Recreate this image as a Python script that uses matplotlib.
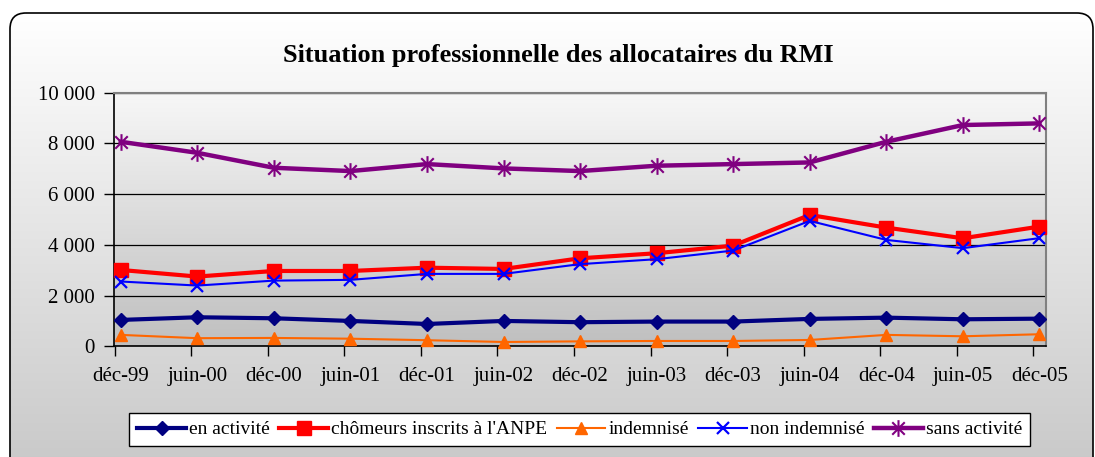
import numpy as np
import matplotlib
matplotlib.use("Agg")
import matplotlib.pyplot as plt
from matplotlib.patches import FancyBboxPatch
from matplotlib.path import Path
from matplotlib.ticker import FuncFormatter, FixedLocator

plt.rcParams['font.family'] = ['Liberation Serif', 'DejaVu Serif']

title = "Situation professionnelle des allocataires du RMI"
periods = ["déc-99", "juin-00", "déc-00", "juin-01", "déc-01", "juin-02", "déc-02",
           "juin-03", "déc-03", "juin-04", "déc-04", "juin-05", "déc-05"]
en_activite = [1040, 1145, 1105, 1000, 880, 1000, 950, 975, 975, 1080, 1130, 1065, 1090]
chomeurs_anpe = [3010, 2750, 2970, 2970, 3100, 3050, 3470, 3670, 3970, 5180, 4680, 4260, 4720]
indemnise = [450, 320, 330, 300, 240, 170, 195, 210, 210, 250, 450, 395, 475]
non_indemnise = [2555, 2395, 2590, 2620, 2855, 2855, 3240, 3435, 3775, 4945, 4195, 3870, 4265]
sans_activite = [8065, 7630, 7040, 6910, 7185, 7015, 6910, 7120, 7185, 7250, 8065, 8725, 8790]
y_ticks = [0, 2000, 4000, 6000, 8000, 10000]

W, H = 1095, 457
fig = plt.figure(figsize=(W / 100, H / 100), dpi=100, facecolor='white')

# background (pixel coordinates)
bg = fig.add_axes([0, 0, 1, 1], zorder=-10)
bg.set_xlim(0, W)
bg.set_ylim(H, 0)
bg.axis('off')
grad = np.linspace(0, 1, 256).reshape(-1, 1)
top_c = np.array([1.0, 1.0, 1.0])
bot_c = np.array([0.78, 0.78, 0.78])
img = top_c + (bot_c - top_c) * grad
img = np.repeat(img[:, None, :], 2, axis=1)
frame = FancyBboxPatch((10, 13), 1083, 470, boxstyle="round,pad=0,rounding_size=16",
                       facecolor='none', edgecolor='black', linewidth=1.2,
                       transform=bg.transData, zorder=3)
im = bg.imshow(img, extent=[10, 1093, 483, 13], aspect='auto', interpolation='bilinear', zorder=1)
im.set_clip_path(frame)
bg.add_patch(frame)

# plot area gradient
ax_l, ax_r, ax_t, ax_b = 114.3, 1046.3, 92.7, 346.3
top_p = np.array([0.97, 0.97, 0.97])
bot_p = np.array([0.75, 0.75, 0.75])
img2 = top_p + (bot_p - top_p) * grad
img2 = np.repeat(img2[:, None, :], 2, axis=1)
bg.imshow(img2, extent=[ax_l, ax_r, ax_b, ax_t], aspect='auto', interpolation='bilinear', zorder=2)
bg.set_xlim(0, W)
bg.set_ylim(H, 0)

ax = fig.add_axes([ax_l / W, 1 - ax_b / H, (ax_r - ax_l) / W, (ax_b - ax_t) / H])
ax.set_facecolor('none')

# Excel-like star marker: vertical bar plus an X
d = 0.75
star = Path([(0, -1), (0, 1), (-d, -d), (d, d), (-d, d), (d, -d)],
            [Path.MOVETO, Path.LINETO, Path.MOVETO, Path.LINETO, Path.MOVETO, Path.LINETO])

x = np.arange(len(periods))
series = [
    ("en activité", en_activite, dict(color='#000080', lw=3, marker='D', ms=7.5, mew=1)),
    ("chômeurs inscrits à l'ANPE", chomeurs_anpe, dict(color='#FF0000', lw=3, marker='s', ms=9.5, mew=1)),
    ("indemnisé", indemnise, dict(color='#FF6600', lw=1.5, marker='^', ms=8, mew=1)),
    ("non indemnisé", non_indemnise, dict(color='#0000FF', lw=1.5, marker='x', ms=9, mew=1.6)),
    ("sans activité", sans_activite, dict(color='#800080', lw=3.2, marker=star, ms=12, mew=1.5,
                                          fillstyle='none')),
]
handles = []
for name, vals, st in series:
    ln, = ax.plot(x, vals, label=name, clip_on=False, zorder=3, **st)
    handles.append(ln)

ax.set_xlim(-0.084, 12.09)
ax.set_ylim(0, 10000)
ax.set_xticks(x)
ax.set_xticklabels(periods, fontsize=15)
ax.tick_params(axis='x', which='major', length=0, pad=15)
ax.xaxis.set_minor_locator(FixedLocator(list(x - 0.08)))
ax.tick_params(axis='x', which='minor', length=7, width=1, direction='out', color='black')
ax.set_yticks(y_ticks)
ax.yaxis.set_major_formatter(FuncFormatter(lambda v, p: f"{int(v):,}".replace(",", " ")))
ax.tick_params(axis='y', length=7, width=1, direction='out', pad=7, labelsize=15)
ax.grid(axis='y', color='black', lw=0.9)
ax.set_axisbelow(True)
for s in ['top', 'right']:
    ax.spines[s].set_color('#808080')
    ax.spines[s].set_linewidth(1.5)
for s in ['left', 'bottom']:
    ax.spines[s].set_color('black')
    ax.spines[s].set_linewidth(1.2)

fig.text(558.6 / W, 1 - 61.7 / H, title, ha='center', va='baseline',
         fontsize=18.9, fontweight='bold')

leg = fig.legend(handles=handles, loc='center', bbox_to_anchor=(579.5 / W, 1 - 429.5 / H),
                 ncol=5, fontsize=14, frameon=True, fancybox=False, framealpha=1,
                 edgecolor='black', facecolor='white', handlelength=2.5, handletextpad=0.15,
                 columnspacing=0.5, borderpad=0.4, borderaxespad=0)
leg.get_frame().set_linewidth(1)

fig.savefig("out.png", dpi=100, facecolor='white')
